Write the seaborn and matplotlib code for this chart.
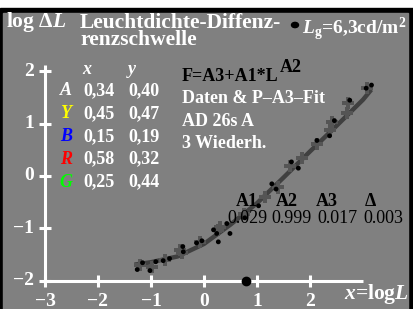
import numpy as np
import pandas as pd
import seaborn as sns
import matplotlib.pyplot as plt
from matplotlib.patches import Rectangle

# ---- data ----
# fit curve (log L, log dL)
fit_x = [-1.27, -1.0, -0.5, 0.0, 0.5, 1.0, 1.5, 2.0, 2.5, 3.0, 3.13]
fit_y = [-1.69, -1.65, -1.54, -1.30, -0.93, -0.52, -0.03, 0.47, 0.96, 1.46, 1.62]

# measured points (black dots)
dot_x = [-1.26, -1.16, -1.02, -0.91, -0.77, -0.65, -0.40, -0.39, -0.14, -0.04,
         0.18, 0.24, 0.27, 0.43, 0.49, 0.77, 1.03, 1.28, 1.36, 1.65, 1.78,
         2.13, 2.37, 2.46, 2.75, 3.06, 3.16]
dot_y = [-1.79, -1.66, -1.81, -1.64, -1.62, -1.58, -1.35, -1.45, -1.28, -1.24,
         -1.03, -1.10, -1.26, -0.91, -1.10, -0.80, -0.57, -0.15, -0.25, 0.27, 0.15,
         0.68, 0.77, 1.06, 1.45, 1.68, 1.74]

# repeated points (gray crosses)
cross_x = [-1.21, -0.99, -0.74, -0.45, -0.42, -0.08, 0.27, 0.30, 0.75, 1.15,
           1.40, 1.62, 1.84, 2.13, 2.38, 2.41, 2.69, 2.72, 3.07]
cross_y = [-1.70, -1.74, -1.61, -1.42, -1.48, -1.26, -1.03, -0.97, -0.72, -0.40,
           -0.22, 0.19, 0.35, 0.62, 0.88, 1.04, 1.20, 1.39, 1.68]

x_ticks = [-3, -2, -1, 0, 1, 2]
y_ticks = [-2, -1, 0, 1, 2]
lg_x = 0.8   # log(6.3)

legend_names = ['A', 'Y', 'B', 'R', 'G']
legend_colors = ['white', '#ffff00', '#0000ff', '#ff0000', '#00ff00']
legend_xv = ['0,34', '0,45', '0,15', '0,58', '0,25']
legend_yv = ['0,40', '0,47', '0,19', '0,32', '0,44']
par_names = ['A1', 'A2', 'A3', 'Δ']
par_vals = ['0.029', '0.999', '0.017', '0.003']

W, H = 413, 309
fig = plt.figure(figsize=(W / 100, H / 100), dpi=100)
plt.rcParams['font.family'] = ['Liberation Serif', 'DejaVu Serif']
plt.rcParams['mathtext.fontset'] = 'custom'
plt.rcParams['mathtext.rm'] = 'Liberation Serif:bold'
plt.rcParams['mathtext.it'] = 'Liberation Serif:italic:bold'

def px(x, y):
    return x / W, 1 - y / H

# frame
fig.patches.append(Rectangle((0, 0), 1, (H - 8) / H, transform=fig.transFigure,
                             color='black', zorder=-2))
fig.patches.append(Rectangle((3 / W, 0), 405 / W, (H - 13) / H,
                             transform=fig.transFigure, color='#808080', zorder=-1))

ax = fig.add_axes([0, 0, 1, 1])
ax.set_zorder(1)
ax.set_facecolor('none')
ax.patch.set_alpha(0)
ax.set_xlim(-204 / 53, (W - 204) / 53)
ax.set_ylim((176 - H) / 52.25, 176 / 52.25)
ax.axis('off')

# axes
ax.plot([-3, -3], [-2, 2.12], color='white', lw=2.2, solid_capstyle='butt')
ax.plot([-3, 3.0], [-2, -2], color='white', lw=2.2, solid_capstyle='butt')
ax.plot([-3] * len(y_ticks), y_ticks, ls='none', marker='_', ms=9, mew=2.2, color='white')
ax.plot(x_ticks, [-2] * len(x_ticks), ls='none', marker='|', ms=9, mew=2.2, color='white')
ax.plot([lg_x], [-2], 'o', color='black', ms=6, zorder=5)

# data
fit = pd.DataFrame({'x': fit_x, 'y': fit_y})
sns.lineplot(data=fit, x='x', y='y', ax=ax, color='#404040', lw=3.2, sort=False)
sns.scatterplot(x=cross_x, y=cross_y, ax=ax, marker='P', s=75, color='#555555',
                edgecolor='none', zorder=3)
sns.scatterplot(x=dot_x, y=dot_y, ax=ax, marker='o', s=12, color='black',
                edgecolor='none', zorder=4)
ax.set_xlabel('')
ax.set_ylabel('')

wb = dict(color='white', fontweight='bold')
for t in y_ticks:
    fig.text(*px(34, 176 - 52.25 * t), str(t).replace('-', '−'), fontsize=14,
             ha='right', va='center', **wb)
for t in x_ticks:
    fig.text(*px(204 + 53 * t, 306), str(t).replace('-', '−'), fontsize=14,
             ha='center', va='baseline', **wb)
fig.text(*px(409, 299), r'$x$=log$L$', fontsize=15.5, ha='right', va='baseline', **wb)

# title
fig.text(*px(6, 27), r'log $\Delta L$', fontsize=15.5, va='baseline', **wb)
fig.text(*px(80, 13), 'Leuchtdichte-Diffenz-\nrenzschwelle', fontsize=15.5,
         va='top', linespacing=0.78, **wb)
fig.text(*px(302, 34), r'$L_{\rm g}$=6,3cd/m$^{\rm 2}$', fontsize=14, va='baseline', **wb)
fig.patches.append(plt.Circle(px(295, 25), 3.5 / W, transform=fig.transFigure,
                              color='black', zorder=3))

# legend table
fig.text(*px(87, 74), 'x', fontsize=13, ha='center', va='baseline',
         style='italic', **wb)
fig.text(*px(132, 74), 'y', fontsize=13, ha='center', va='baseline',
         style='italic', **wb)
for i, (n, c, a, b) in enumerate(zip(legend_names, legend_colors, legend_xv, legend_yv)):
    yb = 95 + 22.9 * i
    fig.text(*px(66, yb), n, fontsize=13, ha='center', va='baseline',
             style='italic', color=c, fontweight='bold')
    fig.text(*px(99, yb), a, fontsize=13, ha='center', va='baseline', **wb)
    fig.text(*px(144, yb), b, fontsize=13, ha='center', va='baseline', **wb)

# formula block
fig.text(*px(182, 81), 'F=A3+A1*L', fontsize=13, va='baseline',
         color='black', fontweight='bold')
fig.text(*px(280, 72), 'A2', fontsize=13, va='baseline',
         color='black', fontweight='bold')
for i, s in enumerate(['Daten & P–A3–Fit', 'AD 26s A', '3 Wiederh.']):
    fig.text(*px(182, 103 + 22.5 * i), s, fontsize=13, va='baseline', **wb)

for n, xc in zip(par_names, [247, 287, 327, 370]):
    fig.text(*px(xc, 206), n, fontsize=13, ha='center', va='baseline',
             color='black', fontweight='bold')
for v, xc in zip(par_vals, [247, 292, 337, 383]):
    fig.text(*px(xc, 223), v, fontsize=13, ha='center', va='baseline', color='black')

plt.savefig('out.png', dpi=100)
